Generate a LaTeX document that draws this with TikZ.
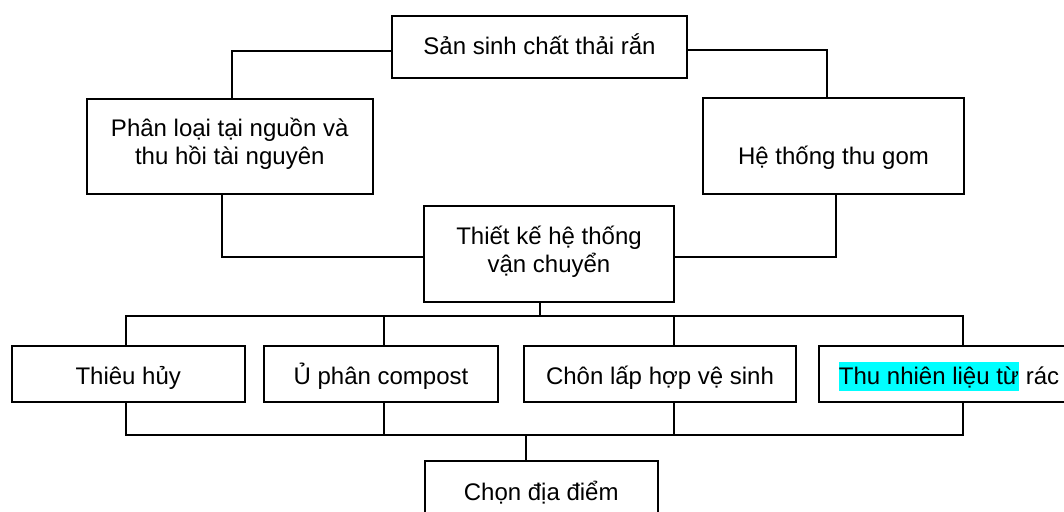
\documentclass[tikz,border=0pt]{standalone}
\usepackage{fontspec}
\setmainfont{Liberation Sans}
\definecolor{hlcyan}{RGB}{0,255,255}
\newcommand{\hlmark}[1]{{\setlength{\fboxsep}{0pt}\colorbox{hlcyan}{\rule[-7pt]{0pt}{29pt}#1}}}
\tikzset{
  box/.style={draw=black, line width=2pt, fill=white, inner sep=0pt,
    align=center, font=\fontsize{24}{28.3}\selectfont},
  % put the (last) baseline at a fixed distance below the box centre
  basel/.style={text height=#1, text depth=0pt},
  link/.style={draw=black, line width=2pt}
}
\begin{document}
\begin{tikzpicture}[x=1pt,y=-1pt]
\path[use as bounding box] (0,0) rectangle (1064,511);
\clip (0,0) rectangle (1064,511);

% upper part of the chart
\node[box, basel=16pt, minimum width=295pt, minimum height=62pt] (src) at (539.5,47) {Sản sinh chất thải rắn};
\node[box, basel=35.6pt, minimum width=286.5pt, minimum height=95pt] (sort) at (229.75,146.5) {Phân loại tại nguồn và\\thu hồi tài nguyên};
\node[box, basel=36pt, minimum width=261pt, minimum height=96pt] (coll) at (833.5,146) {Hệ thống thu gom};
\node[box, basel=36.6pt, minimum width=250pt, minimum height=96pt] (trans) at (549,254) {Thiết kế hệ thống\\vận chuyển};

% treatment options
\node[box, basel=20pt, minimum width=233.5pt, minimum height=56pt] (burn) at (128.25,374) {Thiêu hủy};
\node[box, basel=20pt, minimum width=234pt, minimum height=56pt] (comp) at (381,374) {Ủ phân compost};
\node[box, basel=20pt, minimum width=272pt, minimum height=56pt] (land) at (660,374) {Chôn lấp hợp vệ sinh};
\node[box, basel=20pt, minimum width=260pt, minimum height=56pt] (fuel) at (949,374) {\hlmark{Thu nhiên liệu từ} rác};

% final step
\node[box, basel=19.5pt, minimum width=233.5pt, minimum height=58.5pt] (site) at (541.25,490.25) {Chọn địa điểm};

% junction points of the connectors
\coordinate (a1) at (232,51);
\coordinate (a2) at (827,50);
\coordinate (b1) at (222,257);
\coordinate (b2) at (836,257);
\coordinate (td) at (540,316);
\coordinate (u1) at (125.5,316);
\coordinate (u2) at (384,316);
\coordinate (u3) at (674,316);
\coordinate (u4) at (963,316);
\coordinate (l1) at (125.5,435);
\coordinate (l2) at (384,435);
\coordinate (l3) at (674,435);
\coordinate (l4) at (963,435);
\coordinate (sd) at (526,435);

% connectors
\draw[link] (src.west |- a1) -- (a1) -- (a1 |- sort.north);
\draw[link] (src.east |- a2) -- (a2) -- (a2 |- coll.north);
\draw[link] (b1 |- sort.south) -- (b1) -- (b1 -| trans.west);
\draw[link] (b2 |- coll.south) -- (b2) -- (b2 -| trans.east);
\draw[link] (td |- trans.south) -- (td);

% upper bus
\draw[link] (u1 |- burn.north) -- (u1) -- (u4) -- (u4 |- fuel.north);
\draw[link] (u2) -- (u2 |- comp.north);
\draw[link] (u3) -- (u3 |- land.north);

% lower bus
\draw[link] (l1 |- burn.south) -- (l1) -- (l4) -- (l4 |- fuel.south);
\draw[link] (l2 |- comp.south) -- (l2);
\draw[link] (l3 |- land.south) -- (l3);
\draw[link] (sd) -- (sd |- site.north);
\end{tikzpicture}
\end{document}
